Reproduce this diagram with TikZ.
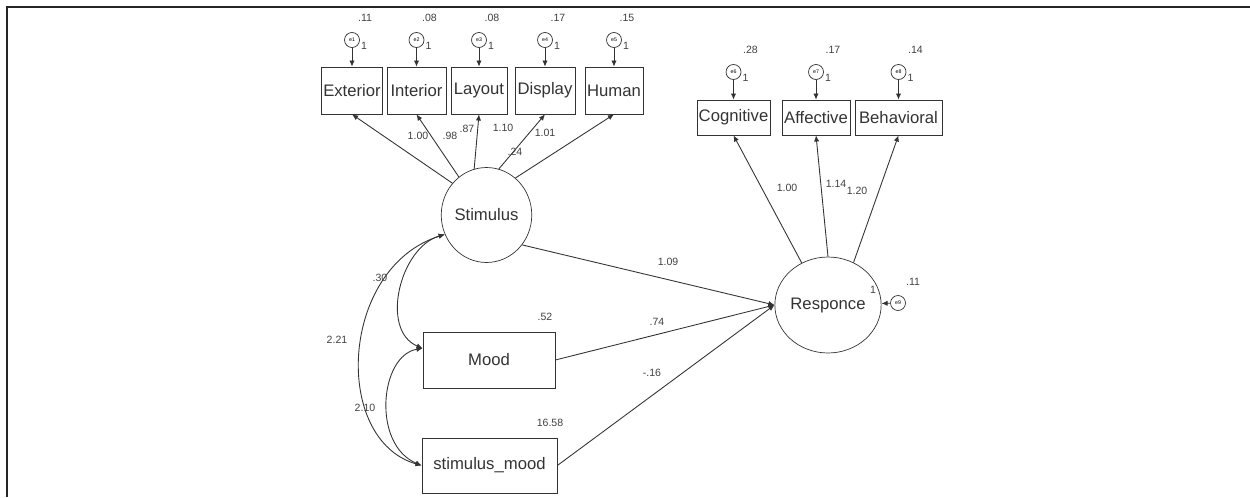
\documentclass[tikz,border=0pt]{standalone}
\usepackage{fontspec}
\setmainfont{Liberation Sans}
\usepackage{tikz}
\usetikzlibrary{calc,shapes.geometric,arrows.meta}

\tikzset{
  obsbox/.style={draw=black!80, rectangle, inner sep=0pt, text=black!80, font=\fontsize{9.5}{10}\selectfont},
  latent/.style={draw=black!80, ellipse, inner sep=0pt, text=black!80, font=\fontsize{9.5}{10}\selectfont},
  errc/.style={draw=black!80, circle, inner sep=0pt, minimum size=0.3cm, font=\fontsize{3}{3}\selectfont},
  est/.style={inner sep=0pt, text=black!75, font=\fontsize{6}{7}\selectfont},
  arr/.style={draw=black!80, line width=0.5pt, -{Latex[length=3.5pt,width=3pt]}},
  cov/.style={draw=black!80, line width=0.5pt, {Latex[length=3.5pt,width=3pt]}-{Latex[length=3.5pt,width=3pt]}}
}

\begin{document}
\begin{tikzpicture}[x=0.02cm, y=-0.02cm]
    \useasboundingbox (0,0) rectangle (1250,497);
    \draw[line width=1.2pt, black!85] (1250,7) -- (7,7) -- (7,497);

    \node[latent, minimum width=1.76cm, minimum height=1.9cm] (stim) at (486.5,215) {Stimulus};
    \node[latent, minimum width=1.68cm, minimum height=1.92cm] (resp) at (828,305) {Responce};
    \node[obsbox, minimum width=2.64cm, minimum height=1.12cm] (mood) at (489,360) {Mood};
    \node[obsbox, minimum width=2.7cm, minimum height=1.1cm] (smood) at (489.5,465.5) {stimulus\_mood};

    % indicators of Stimulus
    \foreach \i/\nm/\x/\w/\ang/\var in {1/Exterior/352/1.22/137/.11, 2/Interior/416.5/1.18/126/.08, 3/Layout/479/1.12/105/.08, 4/Display/545/1.2/75/.17, 5/Human/614/1.16/52/.15}{
        \node[obsbox, minimum width=\w cm, minimum height=0.94cm] (ind\i) at (\x,90.5) {\nm};
        \node[errc] (e\i) at (\x,40) {e\i};
        \node[est] (v\i) at (\x+13,18) {\var};
        \node[est] (one\i) at (\x+12,46) {1};
        \draw[arr] (e\i) -- (ind\i);
        \draw[arr] (stim.\ang) -- (ind\i.south);
    }
    % indicators of Responce
    \foreach \i/\nm/\x/\w/\ang/\var in {6/Cognitive/733.5/1.46/122/.28, 7/Affective/816/1.36/90/.17, 8/Behavioral/898.5/1.74/59/.14}{
        \node[obsbox, minimum width=\w cm, minimum height=0.7cm] (ind\i) at (\x,117.5) {\nm};
        \node[errc] (e\i) at (\x,72) {e\i};
        \node[est] (v\i) at (\x+17,50) {\var};
        \node[est] (one\i) at (\x+12,78) {1};
        \draw[arr] (e\i) -- (ind\i);
        \draw[arr] (resp.\ang) -- (ind\i.south);
    }

    \node[errc] (e9) at (898,303) {e9};
    \node[est] (v9) at (913,282) {.11};
    \node[est] (one9) at (873,290) {1};
    \draw[arr] (e9) -- (resp);

    \node[est] (l1) at (418,136) {1.00};
    \node[est] (l2) at (450,136) {.98};
    \node[est] (l3) at (467,129) {.87};
    \node[est] (l4) at (503,128) {1.10};
    \node[est] (l5) at (545,133) {1.01};
    \node[est] (l6) at (515,152) {.24};
    \node[est] (l7) at (787,188) {1.00};
    \node[est] (l8) at (836,184) {1.14};
    \node[est] (l9) at (857,191) {1.20};

    \draw[arr] (stim.320) -- (resp.west);
    \draw[arr] (mood.east) -- (resp.west);
    \draw[arr] (smood.east) -- (resp.west);
    \node[est] (p1) at (668,262) {1.09};
    \node[est] (p2) at (657,322) {.74};
    \node[est] (p3) at (652,373) {-.16};
    \node[est] (vm) at (545,317) {.52};
    \node[est] (vs) at (550,423) {16.58};

    \draw[cov] (stim.205) .. controls +(-45,13) and +(-43,-18) .. (mood.170);
    \draw[cov] (stim.205) .. controls +(-105,33) and +(-90,-26) .. (smood.west);
    \draw[cov] (mood.170) .. controls +(-43,7) and +(-50,-21) .. (smood.west);
    \node[est] (c1) at (380,278) {.30};
    \node[est] (c2) at (337,340) {2.21};
    \node[est] (c3) at (365,408) {2.10};
\end{tikzpicture}
\end{document}
